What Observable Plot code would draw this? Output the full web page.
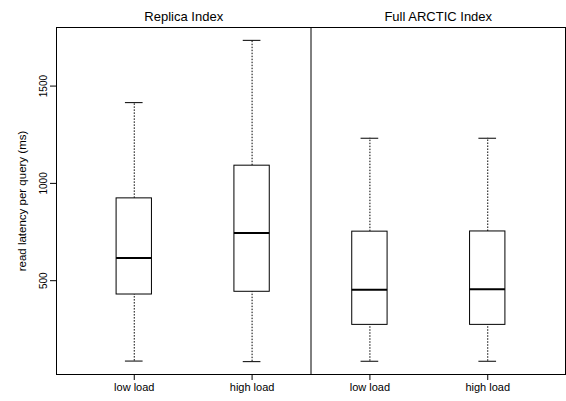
<!DOCTYPE html>
<html>
<head>
<meta charset="utf-8">
<script src="https://cdn.jsdelivr.net/npm/d3@7"></script>
<script src="https://cdn.jsdelivr.net/npm/@observablehq/plot@0.6"></script>
<style>
  html, body { margin: 0; padding: 0; background: white; }
</style>
</head>
<body>
<div id="chart"></div>
<script>
// ---- data ----
const positions = [1, 2, 3, 4];
const loadLabels = ["low load", "high load", "low load", "high load"];
const indexNames = ["Replica Index", "Full ARCTIC Index"];
const whiskerLow = [87, 84, 86, 86];
const q1 = [429, 443, 273, 273];
const median = [617, 745, 453, 456];
const q3 = [923, 1091, 752, 753];
const whiskerHigh = [1415, 1735, 1232, 1232];
const yTicks = [500, 1000, 1500];
const yLabel = "read latency per query (ms)";

// ---- build table ----
const data = positions.map((p, i) => ({
  pos: p, label: loadLabels[i],
  lo: whiskerLow[i], q1: q1[i], med: median[i], q3: q3[i], hi: whiskerHigh[i]
}));

const boxHalf = 0.15, capHalf = 0.075;
// R-style 4% extension of ranges
const xr = [d3.min(positions) - 0.5, d3.max(positions) + 0.5];
const xpad = (xr[1] - xr[0]) * 0.04;
const xDomain = [xr[0] - xpad, xr[1] + xpad];
const yr = [d3.min(whiskerLow), d3.max(whiskerHigh)];
const ypad = (yr[1] - yr[0]) * 0.04;
const yDomain = [yr[0] - ypad, yr[1] + ypad];

const divider = [(positions[1] + positions[2]) / 2];
const panelCenters = [(xDomain[0] + divider[0]) / 2, (divider[0] + xDomain[1]) / 2];

const font = "'Liberation Sans', Arial, Helvetica, sans-serif";
const dotted = "1.5,1.5";

const chart = Plot.plot({
  width: 566,
  height: 401,
  marginLeft: 56,
  marginRight: 1,
  marginTop: 27,
  marginBottom: 27,
  style: { fontFamily: font, fontSize: "11px", background: "white", color: "black", overflow: "visible" },
  x: { type: "linear", domain: xDomain, axis: null },
  y: { type: "linear", domain: yDomain, axis: null },
  marks: [
    Plot.ruleX(data, { x: "pos", y1: "q3", y2: "hi", stroke: "black", strokeDasharray: dotted }),
    Plot.ruleX(data, { x: "pos", y1: "lo", y2: "q1", stroke: "black", strokeDasharray: dotted }),
    Plot.ruleY(data, { y: "hi", x1: d => d.pos - capHalf, x2: d => d.pos + capHalf, stroke: "black" }),
    Plot.ruleY(data, { y: "lo", x1: d => d.pos - capHalf, x2: d => d.pos + capHalf, stroke: "black" }),
    Plot.rect(data, { x1: d => d.pos - boxHalf, x2: d => d.pos + boxHalf, y1: "q1", y2: "q3", fill: "white", stroke: "black" }),
    Plot.ruleY(data, { y: "med", x1: d => d.pos - boxHalf, x2: d => d.pos + boxHalf, stroke: "black", strokeWidth: 2 }),
    Plot.ruleX(divider, { stroke: "black" }),
    Plot.frame({ stroke: "black" }),
    Plot.axisX({ ticks: positions, tickFormat: d => loadLabels[positions.indexOf(d)], tickSize: 6, tickPadding: 3, fontSize: 11, label: null }),
    Plot.axisY({ ticks: yTicks, tickFormat: d => String(d), tickRotate: -90, tickSize: 6, tickPadding: 4, fontSize: 10, label: null }),
    Plot.text(indexNames, { x: (d, i) => panelCenters[i], frameAnchor: "top", dy: -16, fontSize: 13 }),
    Plot.text([yLabel], { frameAnchor: "left", textAnchor: "middle", rotate: -90, dx: -34, fontSize: 11.5 })
  ]
});

document.getElementById("chart").appendChild(chart);
</script>
</body>
</html>
